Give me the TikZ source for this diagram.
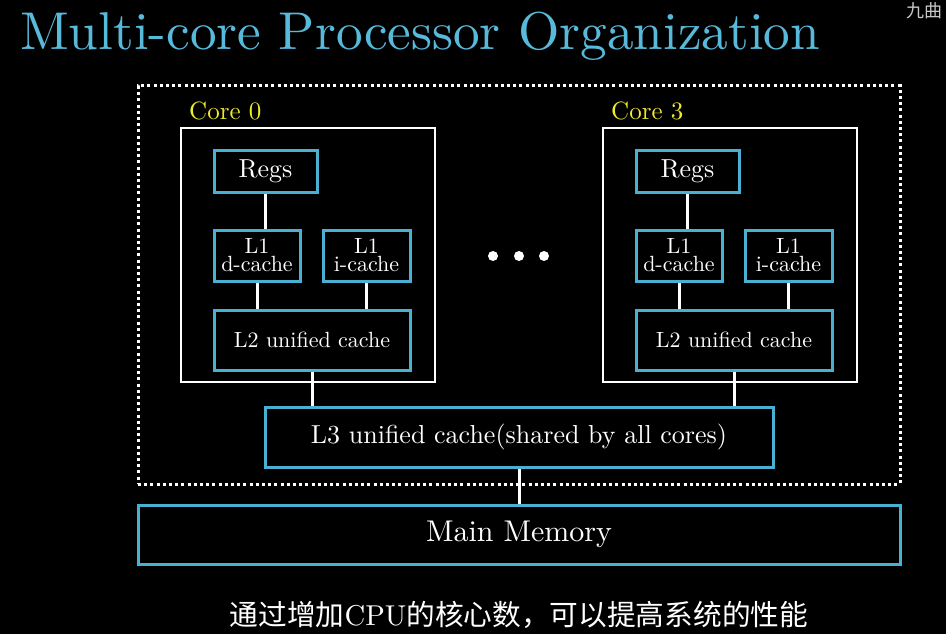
\documentclass[tikz,border=0pt]{standalone}
\usepackage{fontspec}
\setmainfont{lmroman10-regular}[Extension=.otf, BoldFont=lmroman10-bold, ItalicFont=lmroman10-italic]
\newfontfamily\cjk{Noto Sans CJK SC}
\definecolor{boxblue}{RGB}{74,176,210}
\definecolor{titleblue}{RGB}{88,186,218}
\definecolor{coreyellow}{RGB}{240,235,40}
\definecolor{wm}{RGB}{200,200,200}
\tikzset{
  cachebox/.style={draw=boxblue, line width=3pt, fill=black, text=white, inner sep=0pt, align=center},
  corebox/.style={draw=white, line width=2.6pt, inner sep=0pt},
  link/.style={draw=white, line width=3pt},
  corelabel/.style={text=coreyellow, anchor=base west, inner sep=0pt, font=\fontsize{25}{28}\selectfont},
  dotnode/.style={circle, fill=white, minimum size=10pt, inner sep=0pt},
  small/.style={font=\fontsize{22}{18}\selectfont},
  mid/.style={font=\fontsize{26}{28}\selectfont}
}
\begin{document}
\begin{tikzpicture}[x=1pt,y=-1pt]
\fill[black] (0,0) rectangle (946,634);
\useasboundingbox (0,0) rectangle (946,634);

\node[text=titleblue, anchor=base west, inner sep=0pt, font=\fontsize{53.2}{60}\selectfont] (title) at (20,50) {Multi-core Processor Organization};
\node[text=wm, anchor=north west, inner sep=0pt, font=\cjk\fontsize{18}{20}\selectfont] (wmark) at (906,2) {九曲};

\node[draw=white, line width=3pt, dash pattern=on 3pt off 3.2pt, minimum width=762pt, minimum height=398pt, inner sep=0pt] (chip) at (519,285) {};

% Core 0
\node[corebox, minimum width=254pt, minimum height=254pt] (core0) at (308,255) {};
\node[corelabel] (lab0) at (189,120) {Core 0};
\node[cachebox, mid, minimum width=103pt, minimum height=42pt] (regs0) at (265.5,171) {Regs};
\node[cachebox, small, minimum width=86pt, minimum height=51pt] (l1d0) at (257,255.5) {L1\\d-cache};
\node[cachebox, small, minimum width=87pt, minimum height=51pt] (l1i0) at (366.5,255.5) {L1\\i-cache};
\node[cachebox, small, minimum width=196pt, minimum height=60pt] (l20) at (312,340) {L2 unified cache};

% Core 3
\node[corebox, minimum width=254pt, minimum height=254pt] (core3) at (730,255) {};
\node[corelabel] (lab3) at (611,120) {Core 3};
\node[cachebox, mid, minimum width=103pt, minimum height=42pt] (regs3) at (687.5,171) {Regs};
\node[cachebox, small, minimum width=86pt, minimum height=51pt] (l1d3) at (679,255.5) {L1\\d-cache};
\node[cachebox, small, minimum width=87pt, minimum height=51pt] (l1i3) at (788.5,255.5) {L1\\i-cache};
\node[cachebox, small, minimum width=196pt, minimum height=60pt] (l23) at (734,340) {L2 unified cache};

% dots
\node[dotnode] (d1) at (493,256) {};
\node[dotnode] (d2) at (519,256) {};
\node[dotnode] (d3) at (544,256) {};

\node[cachebox, mid, minimum width=508pt, minimum height=60pt] (l3) at (519,437) {L3 unified cache(shared by all cores)};
\node[cachebox, font=\fontsize{30}{32}\selectfont, minimum width=762pt, minimum height=59pt] (mem) at (519,534.5) {Main Memory};

% links
\draw[link] (regs0.south) -- (regs0.south |- l1d0.north);
\draw[link] (l1d0.south) -- (l1d0.south |- l20.north);
\draw[link] (l1i0.south) -- (l1i0.south |- l20.north);
\draw[link] (l20.south) -- (l20.south |- l3.north);
\draw[link] (regs3.south) -- (regs3.south |- l1d3.north);
\draw[link] (l1d3.south) -- (l1d3.south |- l23.north);
\draw[link] (l1i3.south) -- (l1i3.south |- l23.north);
\draw[link] (l23.south) -- (l23.south |- l3.north);
\draw[link] (l3.south) -- (mem.north);

\node[text=white, inner sep=0pt, font=\cjk\fontsize{28.7}{30}\selectfont] (caption) at (519,615) {通过增加{\rmfamily CPU}的核心数，可以提高系统的性能};
\end{tikzpicture}
\end{document}
